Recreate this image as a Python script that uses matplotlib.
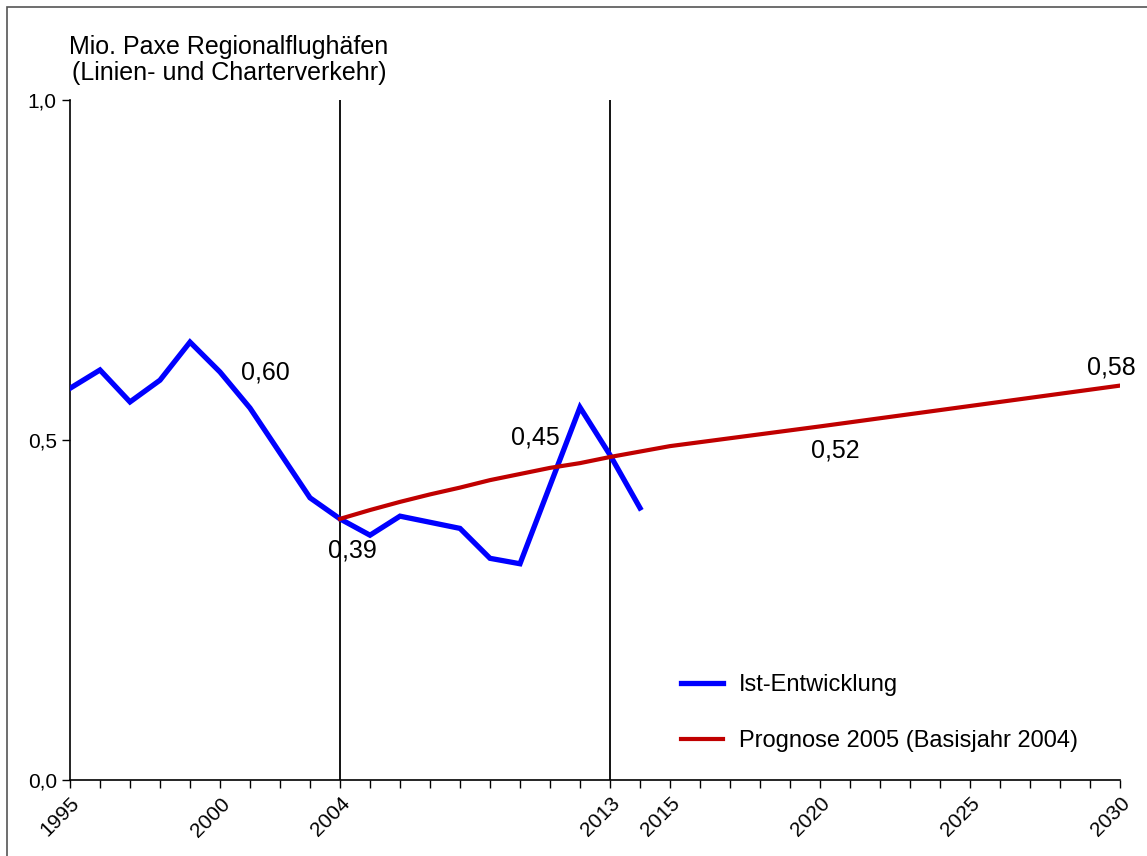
import numpy as np
import matplotlib.pyplot as plt
from matplotlib.patches import Rectangle

plt.rcParams['font.family'] = ['Liberation Sans', 'DejaVu Sans']

# Ist-Entwicklung (Mio. Passagiere)
ist_jahre = [1995, 1996, 1997, 1998, 1999, 2000, 2001, 2002, 2003, 2004,
             2005, 2006, 2007, 2008, 2009, 2010, 2011, 2012, 2013, 2014]
ist_werte = [0.576, 0.603, 0.556, 0.588, 0.644, 0.600, 0.547, 0.481, 0.415, 0.384,
             0.360, 0.388, 0.379, 0.370, 0.326, 0.318, 0.433, 0.548, 0.478, 0.400]

# Prognose 2005 (Basisjahr 2004)
prog_jahre = [2004, 2005, 2006, 2007, 2008, 2009, 2010, 2011, 2012, 2013, 2014, 2015,
              2020, 2025, 2030]
prog_werte = [0.384, 0.397, 0.409, 0.420, 0.430, 0.441, 0.450, 0.459, 0.466, 0.475,
              0.483, 0.491, 0.520, 0.550, 0.580]

tick_jahre = [1995, 2000, 2004, 2013, 2015, 2020, 2025, 2030]
y_ticks = [0.0, 0.5, 1.0]
y_labels = ['0,0', '0,5', '1,0']

# Datenbeschriftungen
lab_texte = ['0,60', '0,39', '0,45', '0,52', '0,58']
lab_x = [2001.5, 2004.4, 2010.5, 2020.5, 2029.7]
lab_y = [0.599, 0.338, 0.504, 0.485, 0.606]

fig = plt.figure(figsize=(11.47, 8.56), dpi=100)
ax = fig.add_axes([70/1147, 76/856, 1050/1147, 680/856])

ax.axvline(2004, color='black', lw=1.3, zorder=1)
ax.axvline(2013, color='black', lw=1.3, zorder=1)

ax.plot(ist_jahre, ist_werte, color='#0000ff', lw=3.8, label='Ist-Entwicklung',
        solid_joinstyle='miter', zorder=3)
ax.plot(prog_jahre, prog_werte, color='#c00000', lw=3.0,
        label='Prognose 2005 (Basisjahr 2004)', zorder=4)

for x, y, t in zip(lab_x, lab_y, lab_texte):
    ax.text(x, y, t, fontsize=18, ha='center', va='center')

ax.set_xlim(1995, 2030)
ax.set_ylim(0, 1.0)
ax.set_xticks(tick_jahre)
ax.set_xticklabels([str(j) for j in tick_jahre], rotation=45, ha='right',
                   rotation_mode='anchor', fontsize=15)
ax.set_xticks(np.arange(1995, 2031), minor=True)
ax.set_yticks(y_ticks)
ax.set_yticklabels(y_labels, fontsize=15)
ax.tick_params(axis='x', which='both', direction='out', length=6, width=1, pad=4)
ax.tick_params(axis='y', direction='out', length=6, width=1)
ax.spines['top'].set_visible(False)
ax.spines['right'].set_visible(False)
ax.spines['left'].set_linewidth(1.2)
ax.spines['bottom'].set_linewidth(1.2)

fig.text(229/1147, 1 - 60/856, 'Mio. Paxe Regionalflughäfen\n(Linien- und Charterverkehr)',
         fontsize=18, ha='center', va='center', linespacing=1.1)

ax.legend(loc='upper left', bbox_to_anchor=(660/1147, 1 - 653/856),
          bbox_transform=fig.transFigure, frameon=False, fontsize=17,
          handlelength=1.75, handletextpad=0.7, labelspacing=1.45)

fig.patches.append(Rectangle((7/1147, -0.05), 1.1, 1.05 - 7/856,
                             transform=fig.transFigure, fill=False,
                             edgecolor='#555555', lw=1.2))

fig.savefig('out.png', dpi=100)
